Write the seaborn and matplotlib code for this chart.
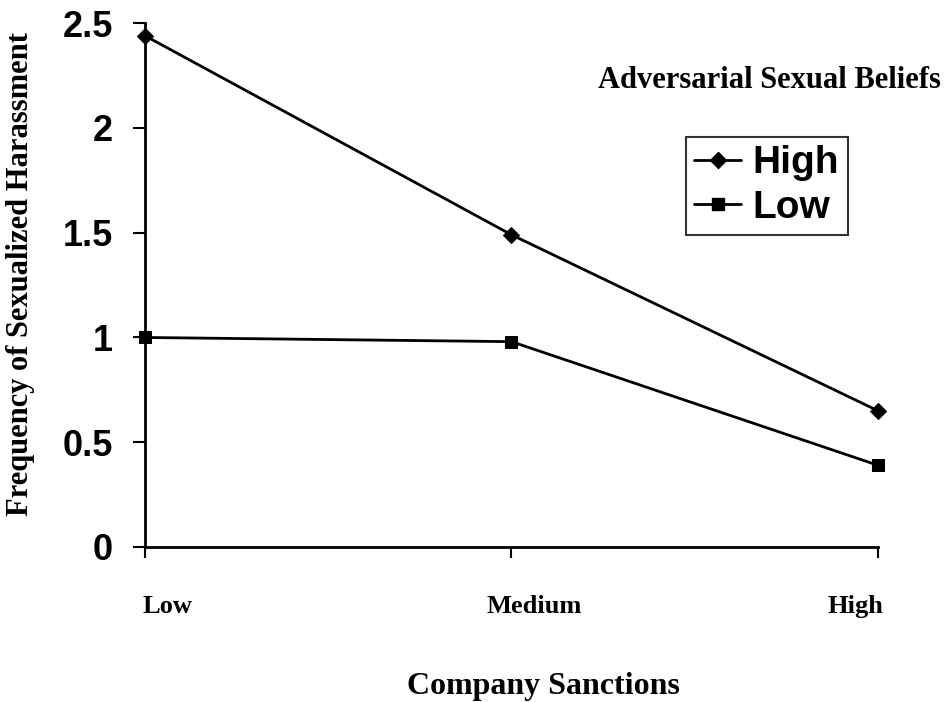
import matplotlib
matplotlib.use("Agg")
import matplotlib.pyplot as plt
import seaborn as sns
import pandas as pd

sanctions = ["Low", "Medium", "High"]
high_beliefs = [2.44, 1.49, 0.65]
low_beliefs = [1.00, 0.98, 0.39]

df = pd.DataFrame({
    "x": [0, 1, 2] * 2,
    "value": high_beliefs + low_beliefs,
    "group": ["High"] * 3 + ["Low"] * 3,
})

sns.set_style("ticks")
serif = ["Liberation Serif", "DejaVu Serif"]
sans = ["Liberation Sans", "DejaVu Sans"]

fig = plt.figure(figsize=(9.5, 7.02), dpi=100)
ax = fig.add_axes([0.1526, 0.2208, 0.7716, 0.7462])

sns.lineplot(data=df, x="x", y="value", hue="group", style="group",
             markers={"High": "D", "Low": "s"}, dashes=False,
             palette={"High": "black", "Low": "black"},
             linewidth=2.0, markersize=8, markeredgecolor="black",
             ax=ax, legend=False)
for ln in ax.lines:
    ln.set_clip_on(False)

ax.set_xlim(0, 2)
ax.set_ylim(0, 2.5)
ax.set_xticks([0, 1, 2])
ax.set_xticklabels([])
# category labels sit a little off their ticks in the original
shifts = [16, 16, -16]
for i, (name, dx) in enumerate(zip(sanctions, shifts)):
    ax.annotate(name, xy=(i, 0), xycoords=("data", "axes fraction"),
                xytext=(dx, -43), textcoords="offset points",
                ha="center", va="center", fontfamily=serif,
                fontweight="bold", fontsize=19, color="black",
                annotation_clip=False)
ax.set_yticks([0, 0.5, 1, 1.5, 2, 2.5])
ax.set_yticklabels(["0", "0.5", "1", "1.5", "2", "2.5"],
                   fontfamily=sans, fontweight="bold", fontsize=26, color="black")
ax.tick_params(axis="x", direction="out", length=8, width=1.5, colors="black")
ax.tick_params(axis="y", direction="out", length=9, width=1.5, pad=14, colors="black")
for s in ["top", "right"]:
    ax.spines[s].set_visible(False)
for s in ["left", "bottom"]:
    ax.spines[s].set_linewidth(2.0)
    ax.spines[s].set_color("black")

ax.set_xlabel("Company Sanctions", fontfamily=serif, fontweight="bold",
              fontsize=23, color="black", va="center")
ax.xaxis.set_label_coords(0.544, -0.267)
ax.set_ylabel("Frequency of Sexualized Harassment", fontfamily=serif,
              fontweight="bold", fontsize=22, color="black", va="center")
ax.yaxis.set_label_coords(-0.17, 0.521)

fig.text(0.81, 0.886, "Adversarial Sexual Beliefs", fontfamily=serif,
         fontweight="bold", fontsize=22, ha="center", va="center", color="black")

handles = [
    plt.Line2D([], [], color="black", marker="D", markersize=8, linewidth=2.0),
    plt.Line2D([], [], color="black", marker="s", markersize=8, linewidth=2.0),
]
leg = fig.legend(handles, ["High", "Low"], loc="upper left",
                 bbox_to_anchor=(0.722, 0.805), frameon=True, fancybox=False,
                 prop={"family": sans, "weight": "bold", "size": 28},
                 handlelength=1.2, handletextpad=0.3, borderpad=0.22,
                 labelspacing=0.22, borderaxespad=0)
leg.get_frame().set_edgecolor("black")
leg.get_frame().set_linewidth(1.5)
for t in leg.get_texts():
    t.set_color("black")

fig.savefig("out.png", dpi=100)
